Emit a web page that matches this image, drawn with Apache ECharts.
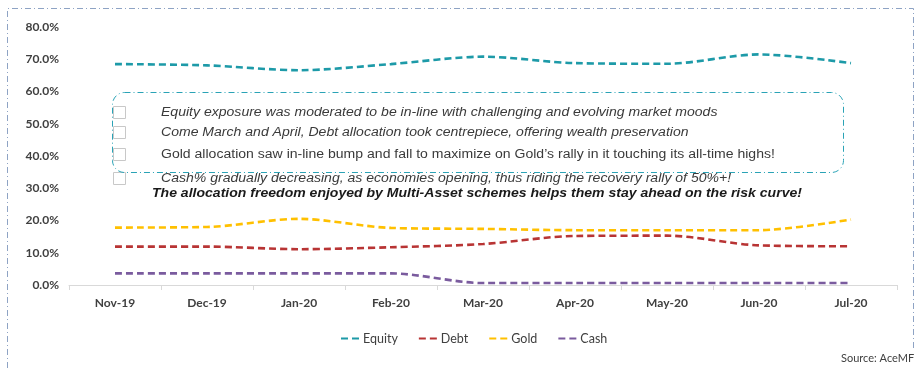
<!DOCTYPE html>
<html>
<head>
<meta charset="utf-8">
<script src="https://cdn.jsdelivr.net/npm/echarts@6/dist/echarts.min.js"></script>
<style>html,body{margin:0;padding:0;background:#fff}#c{width:923px;height:376px}</style>
</head>
<body>
<div id="c"></div>
<script>
const categories = ['Nov-19','Dec-19','Jan-20','Feb-20','Mar-20','Apr-20','May-20','Jun-20','Jul-20'];
const equity = [68.5, 68.1, 66.6, 68.5, 70.8, 68.8, 68.6, 71.5, 68.8];
const debt   = [11.9, 11.9, 11.1, 11.7, 12.7, 15.2, 15.3, 12.3, 12.0];
const gold   = [17.8, 18.0, 20.5, 17.7, 17.4, 17.0, 17.0, 17.0, 20.3];
const cash   = [3.6, 3.6, 3.6, 3.6, 0.6, 0.6, 0.6, 0.6, 0.6];
const yTicks = [0, 10, 20, 30, 40, 50, 60, 70, 80];
const notes = [
  {t:'Equity exposure was moderated to be in-line with challenging and evolving market moods', italic:true},
  {t:'Come March and April, Debt allocation took centrepiece, offering wealth preservation', italic:true},
  {t:'Gold allocation saw in-line bump and fall to maximize on Gold\u2019s rally in it touching its all-time highs!', italic:false},
  {t:'Cash% gradually decreasing, as economies opening, thus riding the recovery rally of 50%+!', italic:true}
];
const summary = 'The allocation freedom enjoyed by Multi-Asset schemes helps them stay ahead on the risk curve!';

const colors = {Equity:'#1d9aa8', Debt:'#b83434', Gold:'#ffc000', Cash:'#7a5b9e'};
const chart = echarts.init(document.getElementById('c'));
const axisFont = 'Lato, "Open Sans", sans-serif';
function mk(name, data){
  return {name, type:'line', data, smooth:0.3, symbol:'none',
    lineStyle:{color:colors[name], width:2.6, type:[7,4]},
    itemStyle:{color:colors[name]}};
}
const graphics = [];
const borderStyle = {fill:null, stroke:'#8ea3c4', lineWidth:1, lineDash:[6,3,1,3]};
graphics.push({type:'polyline', shape:{points:[[7.5,368],[7.5,8.5],[913.5,8.5],[913.5,350]]},
  style:borderStyle, silent:true});
graphics.push({type:'rect', shape:{x:112.5,y:92.5,width:731,height:80,r:12},
  style:{fill:null, stroke:'#2aa3b6', lineWidth:1, lineDash:[6,3,1,3]}, silent:true, z:10});
const noteY = [113, 133, 155, 179];
notes.forEach((n,i)=>{
  graphics.push({type:'rect', shape:{x:113.5,y:noteY[i]-6.5,width:12,height:12},
    style:{fill:'#fff', stroke:'#c8c8c8', lineWidth:1}, silent:true, z:9});
  graphics.push({type:'text', x:161, y:noteY[i], scaleX:1.17,
    style:{text:n.t, fill:'#3a3a3a', font:(n.italic?'italic ':'')+'12px "Liberation Sans", Arial, sans-serif', textVerticalAlign:'middle'}, silent:true, z:11});
});
graphics.push({type:'text', x:152, y:194, scaleX:1.17,
  style:{text:summary, fill:'#1a1a1a', font:'italic bold 12px "Liberation Sans", Arial, sans-serif', textVerticalAlign:'middle'}, silent:true, z:11});
graphics.push({type:'text', x:841, y:358,
  style:{text:'Source: AceMF', fill:'#404040', font:'11px '+axisFont, textVerticalAlign:'middle'}, silent:true});

chart.setOption({
  animation:false,
  grid:{left:69, right:26, top:27, bottom:91},
  legend:{top:327, left:336, itemGap:21, itemWidth:18, itemHeight:3,
    icon:'path://M0 0H7V2H0Z M11 0H18V2H11Z',
    textStyle:{color:'#404040', fontSize:12.5, fontFamily:axisFont, padding:[0,0,0,-1]}},
  xAxis:{type:'category', data:categories, boundaryGap:true,
    axisLine:{lineStyle:{color:'#d9d9d9', width:1}},
    axisTick:{show:true, lineStyle:{color:'#d9d9d9'}, length:5},
    axisLabel:{color:'#404040', fontSize:12, fontWeight:'bold', fontFamily:axisFont, margin:12}},
  yAxis:{type:'value', min:yTicks[0], max:yTicks[yTicks.length-1], interval:10,
    axisLine:{show:false}, axisTick:{show:false}, splitLine:{show:false},
    axisLabel:{color:'#404040', fontSize:12, fontWeight:'bold', fontFamily:axisFont, margin:10,
      formatter:v=>v.toFixed(1)+'%'}},
  series:[mk('Equity',equity), mk('Debt',debt), mk('Gold',gold), mk('Cash',cash)],
  graphic:graphics
});
</script>
</body>
</html>
